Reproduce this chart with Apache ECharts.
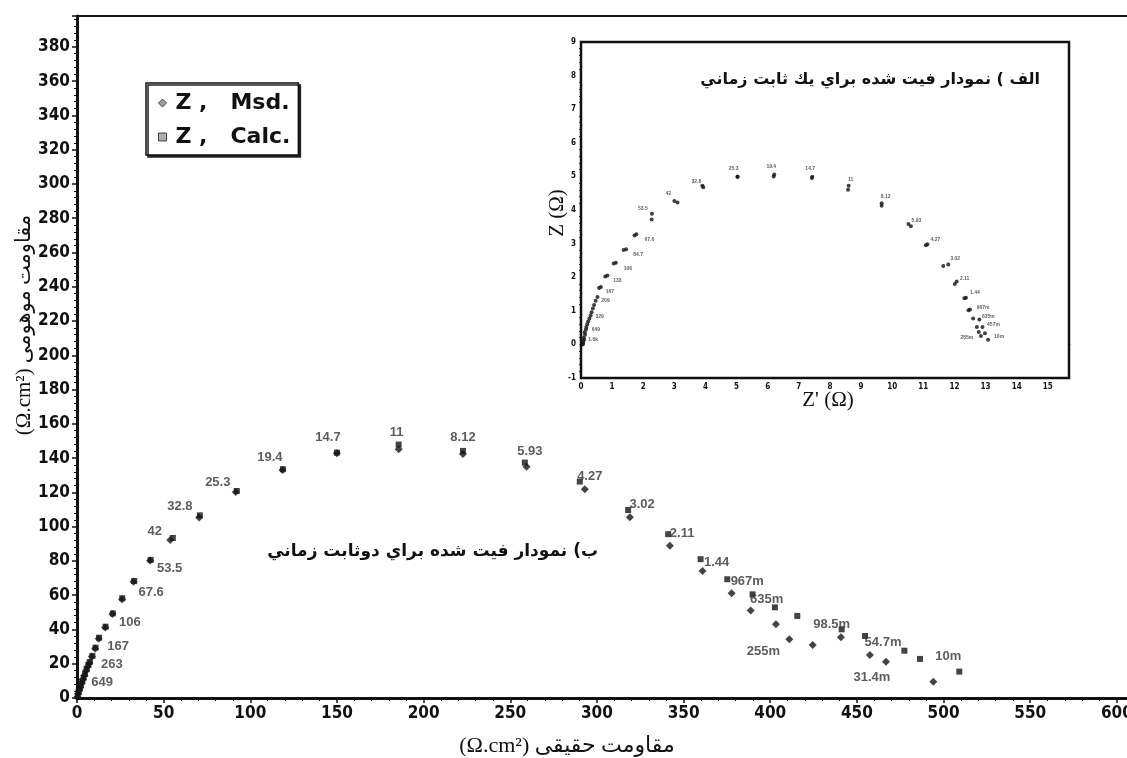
<!DOCTYPE html>
<html>
<head>
<meta charset="utf-8">
<script src="https://cdn.jsdelivr.net/npm/echarts@6/dist/echarts.min.js"></script>
<style>
  html, body { margin: 0; padding: 0; background: #fff; }
  #chart { width: 1127px; height: 758px; }
</style>
</head>
<body>
<div id="chart"></div>
<script>
// ---- Main plot: fit with two time constants (ohm.cm2) ----
const mainMsdRe = [0.2, 0.7, 1.3, 1.9, 2.7, 3.5, 4.3, 5.2, 6.1, 7.1, 8.6, 10.5, 12.5, 16.3, 20.4, 26.0, 32.6, 42.2, 53.8, 70.5, 91.6, 118.6, 149.9, 185.6, 222.7, 259.4, 293.0, 319.0, 342.1, 360.9, 377.7, 388.7, 403.3, 411.0, 424.5, 440.8, 457.5, 466.8, 494.1];
const mainMsdIm = [0.6, 2.6, 4.6, 6.4, 8.7, 10.9, 13.2, 15.9, 18.2, 20.4, 24.0, 28.9, 34.6, 41.2, 49.0, 57.6, 67.8, 80.2, 92.2, 105.4, 120.2, 133.1, 142.8, 145.2, 142.4, 135.0, 121.8, 105.5, 88.9, 74.1, 61.1, 51.0, 43.0, 34.3, 30.9, 35.4, 25.1, 21.2, 9.5];
const mainMsdFreq = ['', '', '', '', '', '', '', '', '', '', '', '', '', '', '', '', '', '', '', '', '', '', '', '', '', '', '', '', '', '', '', '', '', '255m', '', '', '31.4m', '', ''];

const mainCalcRe = [0.4, 0.9, 1.5, 2.2, 3.0, 3.8, 4.6, 5.6, 6.6, 7.4, 8.9, 10.7, 12.7, 16.5, 20.7, 26.1, 33.0, 42.5, 55.3, 70.9, 92.2, 118.8, 150.0, 185.6, 222.7, 258.4, 290.1, 318.0, 341.1, 359.8, 375.2, 389.8, 402.7, 415.6, 441.2, 454.7, 477.4, 486.4, 509.1];
const mainCalcIm = [1.2, 3.3, 5.2, 7.3, 9.6, 11.8, 14.0, 16.8, 19.3, 21.0, 24.6, 29.4, 35.2, 41.6, 49.4, 58.2, 68.3, 80.6, 93.4, 106.6, 120.8, 133.5, 143.2, 147.9, 144.2, 137.4, 126.3, 109.7, 95.6, 81.0, 69.3, 60.5, 52.9, 47.9, 40.1, 36.2, 27.6, 22.8, 15.4];
const mainCalcFreq = ['', '', '', '', '649', '', '', '', '', '263', '', '', '167', '', '106', '', '67.6', '53.5', '42', '32.8', '25.3', '19.4', '14.7', '11', '8.12', '5.93', '4.27', '3.02', '2.11', '1.44', '967m', '635m', '', '', '98.5m', '54.7m', '', '', '10m'];

// ---- Inset: fit with one time constant (ohm) ----
const insetMsdRe = [0.05, 0.07, 0.09, 0.12, 0.17, 0.23, 0.31, 0.38, 0.47, 0.58, 0.78, 1.05, 1.37, 1.72, 2.27, 3.10, 3.90, 5.03, 6.19, 7.42, 8.58, 9.66, 10.60, 11.08, 11.64, 12.01, 12.32, 12.45, 12.60, 12.72, 12.78, 12.85];
const insetMsdIm = [0.00, 0.08, 0.20, 0.36, 0.52, 0.68, 0.86, 1.07, 1.30, 1.68, 2.02, 2.41, 2.81, 3.24, 3.72, 4.22, 4.72, 5.00, 5.00, 4.95, 4.60, 4.13, 3.52, 2.95, 2.33, 1.80, 1.37, 1.02, 0.77, 0.52, 0.37, 0.25];
const insetMsdFreq = ['', '', '', '', '', '', '', '', '', '', '', '', '', '', '', '', '', '', '', '', '', '', '', '', '', '', '', '', '', '', '', '255m'];

const insetCalcRe = [0.07, 0.10, 0.13, 0.16, 0.20, 0.27, 0.34, 0.42, 0.53, 0.64, 0.85, 1.12, 1.45, 1.78, 2.28, 3.00, 3.93, 5.03, 6.21, 7.43, 8.60, 9.66, 10.52, 11.13, 11.80, 12.07, 12.37, 12.50, 12.80, 12.90, 12.98, 13.08];
const insetCalcIm = [0.02, 0.14, 0.29, 0.44, 0.60, 0.77, 0.96, 1.17, 1.41, 1.71, 2.05, 2.43, 2.83, 3.28, 3.89, 4.27, 4.68, 4.98, 5.06, 4.99, 4.72, 4.20, 3.58, 2.98, 2.38, 1.87, 1.39, 1.04, 0.74, 0.52, 0.33, 0.14];
const insetCalcFreq = ['', '1.6k', '', '649', '', '', '329', '', '209', '167', '133', '106', '84.7', '67.6', '53.5', '42', '32.8', '25.3', '19.4', '14.7', '11', '8.12', '5.93', '4.27', '3.02', '2.11', '1.44', '967m', '635m', '457m', '', '10m'];

// Text strings
const legendMsd = 'Z ,   Msd.';
const legendCalc = 'Z ,   Calc.';
const mainTitle = 'ب) نمودار فيت شده براي دوثابت زماني';
const insetTitle = 'الف ) نمودار فيت شده براي يك ثابت زماني';
const mainXName = '(Ω.cm²) مقاومت حقیقی';
const mainYName = '(Ω.cm²) مقاومت موهومی';
const insetXName = "Z' (Ω)";
const insetYName = 'Z (Ω)';

// Label nudges (px) for the frequency tags, keyed by tag text
const mainNudge = {
  '649': [20, 1], '263': [22, 2], '167': [19, 9], '106': [17, 9], '67.6': [17, 11], '53.5': [19, 9],
  '42': [-18, -7], '32.8': [-20, -9], '25.3': [-19, -9], '19.4': [-13, -12], '14.7': [-9, -15],
  '11': [-2, -12], '8.12': [0, -13], '5.93': [5, -11], '4.27': [10, -5], '3.02': [14, -6],
  '2.11': [14, -1], '1.44': [16, 3], '967m': [20, 2], '635m': [14, 5], '98.5m': [-10, -5],
  '54.7m': [18, 6], '10m': [-11, -15], '255m': [-26, 12], '31.4m': [2, 22]
};
const insetNudge = {
  '1.6k': [9, 0], '649': [10, 0], '329': [8, 4], '209': [8, 4], '167': [9, 5], '133': [10, 5],
  '106': [12, 6], '84.7': [12, 5], '67.6': [13, 5], '53.5': [-9, -5], '42': [-6, -7], '32.8': [-7, -6],
  '25.3': [-4, -8], '19.4': [-3, -8], '14.7': [-2, -8], '11': [2, -6], '8.12': [4, -7], '5.93': [8, -3],
  '4.27': [8, -5], '3.02': [7, -6], '2.11': [8, -3], '1.44': [9, -5], '967m': [13, -2], '635m': [9, -3],
  '457m': [11, -2], '10m': [11, -3], '255m': [-14, 2]
};

const tickFont = "'Liberation Sans Narrow', 'DejaVu Sans Condensed', 'Arial Narrow', 'Liberation Sans', sans-serif";
const serifFont = "'Liberation Serif', 'DejaVu Serif', 'DejaVu Sans', serif";
const arabicBold = "'DejaVu Sans', sans-serif";

function buildPoints(re, im, tags, nudge, tagStyle) {
  return re.map(function (x, i) {
    const item = { value: [x, im[i]] };
    const t = tags[i];
    if (t) {
      item.label = Object.assign({
        show: true,
        formatter: t,
        position: 'inside',
        offset: nudge[t] || [0, 0]
      }, tagStyle);
    }
    return item;
  });
}

const mainTag = { fontFamily: "'Liberation Sans', Arial, sans-serif", fontWeight: 'bold', fontSize: 13, color: '#333' };
const insetTag = { fontFamily: "'Liberation Sans', Arial, sans-serif", fontWeight: 'bold', fontSize: 5, color: '#333' };

const chart = echarts.init(document.getElementById('chart'), null, { renderer: 'canvas' });

chart.setOption({
  animation: false,
  backgroundColor: '#fff',
  legend: {
    orient: 'vertical',
    left: 146,
    top: 83,
    padding: [7, 8, 5, 12],
    itemGap: 8,
    itemWidth: 8,
    itemHeight: 8,
    backgroundColor: '#fff',
    borderColor: '#111',
    borderWidth: 1.5,
    shadowColor: '#222',
    shadowOffsetX: 2,
    shadowOffsetY: 2,
    shadowBlur: 0,
    selectedMode: false,
    textStyle: { fontFamily: "'DejaVu Sans', sans-serif", fontWeight: 'bold', fontSize: 22, color: '#111', lineHeight: 26, padding: [0, 0, 0, 4] },
    data: [
      { name: legendMsd, icon: 'diamond', itemStyle: { color: '#888', borderColor: '#222', borderWidth: 1 } },
      { name: legendCalc, icon: 'rect', itemStyle: { color: '#999', borderColor: '#222', borderWidth: 1 } }
    ]
  },
  grid: [
    { left: 77, top: 16, width: 1052, bottom: 60, outerBoundsMode: 'none', containLabel: false, show: true, borderColor: '#111', borderWidth: 2, backgroundColor: 'transparent' },
    { left: 581, top: 42, width: 488, height: 336, outerBoundsMode: 'none', containLabel: false, show: true, borderColor: '#111', borderWidth: 2.5, backgroundColor: '#fff', z: 1 }
  ],
  xAxis: [
    {
      type: 'value', gridIndex: 0, min: 0, max: 607, interval: 50,
      axisLine: { lineStyle: { color: '#111', width: 3 } },
      axisTick: { show: true, length: 5, lineStyle: { color: '#111', width: 1.5 } },
      minorTick: { show: true, splitNumber: 5, length: 3, lineStyle: { color: '#111', width: 1 } },
      splitLine: { show: false },
      axisLabel: {
        margin: 7, fontFamily: tickFont, fontWeight: 'bold', fontSize: 17, color: '#111',
        formatter: function (v) { return v % 50 === 0 ? String(v) : ''; }
      }
    },
    {
      type: 'value', gridIndex: 1, min: 0, max: 15.68, interval: 1,
      axisLine: { lineStyle: { color: '#111', width: 2.5 } },
      axisTick: { show: false },
      splitLine: { show: false },
      axisLabel: {
        margin: 5, fontFamily: tickFont, fontWeight: 'bold', fontSize: 8, color: '#111',
        formatter: function (v) { return Number.isInteger(v) ? String(v) : ''; }
      }
    }
  ],
  yAxis: [
    {
      type: 'value', gridIndex: 0, min: 0, max: 398, interval: 20,
      axisLine: { lineStyle: { color: '#111', width: 3 } },
      axisTick: { show: true, length: 5, lineStyle: { color: '#111', width: 1.5 } },
      minorTick: { show: true, splitNumber: 5, length: 3, lineStyle: { color: '#111', width: 1 } },
      splitLine: { show: false },
      axisLabel: {
        margin: 7, fontFamily: tickFont, fontWeight: 'bold', fontSize: 17, color: '#111',
        formatter: function (v) { return v % 20 === 0 ? String(v) : ''; }
      }
    },
    {
      type: 'value', gridIndex: 1, min: -1, max: 9, interval: 1,
      axisLine: { lineStyle: { color: '#111', width: 2.5 } },
      axisTick: { show: false },
      minorTick: { show: true, splitNumber: 5, length: 2, lineStyle: { color: '#333', width: 1 } },
      splitLine: { show: false },
      axisLabel: {
        margin: 5, fontFamily: tickFont, fontWeight: 'bold', fontSize: 8, color: '#111',
        formatter: function (v) { return Number.isInteger(v) ? String(v) : ''; }
      }
    }
  ],
  series: [
    {
      name: legendMsd, type: 'scatter', xAxisIndex: 0, yAxisIndex: 0,
      symbol: 'diamond', symbolSize: 8, itemStyle: { color: '#151515' },
      data: buildPoints(mainMsdRe, mainMsdIm, mainMsdFreq, mainNudge, mainTag)
    },
    {
      name: legendCalc, type: 'scatter', xAxisIndex: 0, yAxisIndex: 0,
      symbol: 'rect', symbolSize: 6, itemStyle: { color: '#151515' },
      data: buildPoints(mainCalcRe, mainCalcIm, mainCalcFreq, mainNudge, mainTag)
    },
    {
      name: legendMsd, type: 'scatter', xAxisIndex: 1, yAxisIndex: 1, z: 3,
      symbol: 'circle', symbolSize: 4, itemStyle: { color: '#111' },
      data: buildPoints(insetMsdRe, insetMsdIm, insetMsdFreq, insetNudge, insetTag)
    },
    {
      name: legendCalc, type: 'scatter', xAxisIndex: 1, yAxisIndex: 1, z: 3,
      symbol: 'circle', symbolSize: 4, itemStyle: { color: '#111' },
      data: buildPoints(insetCalcRe, insetCalcIm, insetCalcFreq, insetNudge, insetTag)
    }
  ],
  graphic: [
    { type: 'text', z: 10, x: 598, y: 552, style: { text: mainTitle, font: "bold 17px " + arabicBold, fill: '#111', align: 'right', verticalAlign: 'middle' } },
    { type: 'text', z: 10, x: 1040, y: 80, style: { text: insetTitle, font: "bold 16px " + arabicBold, fill: '#111', align: 'right', verticalAlign: 'middle' } },
    { type: 'text', z: 10, x: 567, y: 746, style: { text: mainXName, font: "22px " + serifFont, fill: '#111', align: 'center', verticalAlign: 'middle' } },
    { type: 'text', z: 10, x: 24, y: 325, rotation: Math.PI / 2, style: { text: mainYName, font: "21px " + serifFont, fill: '#111', align: 'center', verticalAlign: 'middle' } },
    { type: 'text', z: 10, x: 828, y: 400, style: { text: insetXName, font: "21px " + serifFont, fill: '#111', align: 'center', verticalAlign: 'middle' } },
    { type: 'text', z: 10, x: 557, y: 213, rotation: Math.PI / 2, style: { text: insetYName, font: "21px " + serifFont, fill: '#111', align: 'center', verticalAlign: 'middle' } }
  ]
});
</script>
</body>
</html>
